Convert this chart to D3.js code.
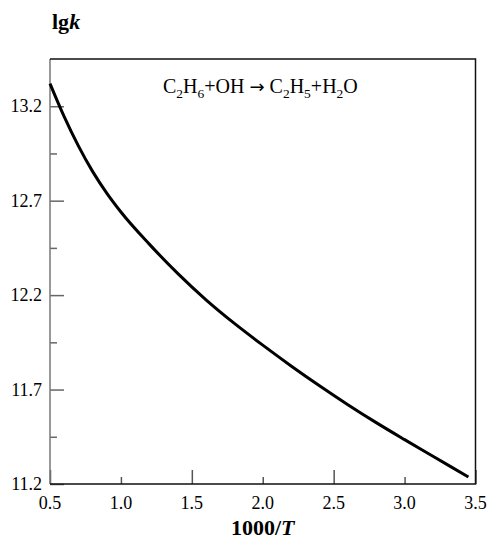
<!DOCTYPE html>
<html>
<head>
<meta charset="utf-8">
<script src="https://cdn.jsdelivr.net/npm/d3@7"></script>
<style>
  html, body { margin: 0; padding: 0; background: #fff; }
  svg { display: block; }
</style>
</head>
<body>
<svg id="chart" width="487" height="541" font-family="'Liberation Serif', 'Times New Roman', 'DejaVu Serif', serif"></svg>
<script>
// Rate constant of C2H6 + OH -> C2H5 + H2O versus reciprocal temperature
const invT = [0.50, 0.60, 0.70, 0.80, 0.90, 1.00, 1.20, 1.40, 1.60, 1.80, 2.00, 2.20, 2.40, 2.60, 2.80, 3.00, 3.20, 3.45];
const lgk  = [13.32, 13.145, 12.99, 12.855, 12.74, 12.64, 12.47, 12.315, 12.175, 12.05, 11.935, 11.825, 11.72, 11.62, 11.525, 11.435, 11.347, 11.237];

const xMajor = [0.5, 1.5, 2.5, 3.5];
const xMinor = [1.0, 2.0, 3.0];
const xTickLabels = [0.5, 1.0, 1.5, 2.0, 2.5, 3.0, 3.5];
const yMajor = [11.2, 11.7, 12.2, 12.7, 13.2];
const yMinor = [11.45, 11.95, 12.45, 12.95];

const svg = d3.select("#chart");
const L = 50, R = 475.5, T = 59, B = 484;

const x = d3.scaleLinear().domain([0.5, 3.5]).range([L, R]);
const y = d3.scaleLinear().domain([11.2, 13.45]).range([B, T]);

// inward ticks on the bottom axis
const gx = svg.append("g").attr("transform", `translate(0,${B})`);
gx.call(d3.axisBottom(x).tickValues(xMajor).tickSizeInner(-14).tickSizeOuter(0).tickFormat(""));
gx.append("g").call(d3.axisBottom(x).tickValues(xMinor).tickSizeInner(-7).tickSizeOuter(0).tickFormat(""));
gx.selectAll("path.domain").remove();
gx.selectAll("line").attr("stroke", "#555").attr("stroke-width", 1.5);

// inward ticks on the left axis
const gy = svg.append("g").attr("transform", `translate(${L},0)`);
gy.call(d3.axisLeft(y).tickValues(yMajor).tickSizeInner(-14).tickSizeOuter(0).tickFormat(""));
gy.append("g").call(d3.axisLeft(y).tickValues(yMinor).tickSizeInner(-7).tickSizeOuter(0).tickFormat(""));
gy.selectAll("path.domain").remove();
gy.selectAll("line").attr("stroke", "#666").attr("stroke-width", 1.5);

// tick labels
svg.append("g").selectAll("text").data(xTickLabels).join("text")
  .attr("x", d => x(d)).attr("y", 509)
  .attr("text-anchor", "middle").attr("font-size", 18)
  .text(d => d.toFixed(1));
svg.append("g").selectAll("text").data(yMajor).join("text")
  .attr("x", 42).attr("y", d => y(d) + 6)
  .attr("text-anchor", "end").attr("font-size", 18)
  .text(d => d.toFixed(1));

// frame
svg.append("line").attr("x1", L).attr("x2", L).attr("y1", T).attr("y2", B)
  .attr("stroke", "#777").attr("stroke-width", 1.5);
svg.append("path")
  .attr("d", `M${L},${T}H${R}V${B}H${L}`)
  .attr("fill", "none").attr("stroke", "#111").attr("stroke-width", 1.5);

// curve
const pts = invT.map((v, i) => [v, lgk[i]]);
svg.append("path").datum(pts)
  .attr("fill", "none").attr("stroke", "#000").attr("stroke-width", 3)
  .attr("d", d3.line().x(d => x(d[0])).y(d => y(d[1])).curve(d3.curveMonotoneX));

// reaction label with subscripts; the arrow uses a font that carries the glyph
const eq = svg.append("text").attr("x", 163).attr("y", 93).attr("font-size", 20);
const parts = [["C"], ["2", "sub"], ["H"], ["6", "sub"], ["+OH "], ["\u2192", "arrow"], [" C"], ["2", "sub"], ["H"], ["5", "sub"], ["+H"], ["2", "sub"], ["O"]];
parts.forEach(([t, kind], i) => {
  const prevSub = i > 0 && parts[i - 1][1] === "sub";
  const sub = kind === "sub";
  const sp = eq.append("tspan").text(t)
    .attr("dy", (sub ? 5 : 0) + (prevSub ? -5 : 0));
  if (sub) sp.attr("font-size", 13.5);
  if (kind === "arrow") sp.attr("font-family", "'DejaVu Sans', sans-serif").attr("font-size", 18);
});

// axis titles
const yt = svg.append("text").attr("x", 52).attr("y", 29).attr("font-size", 22).attr("font-weight", "bold");
yt.append("tspan").text("lg");
yt.append("tspan").attr("font-style", "italic").text("k");

const xt = svg.append("text").attr("x", x(2.0)).attr("y", 535).attr("text-anchor", "middle")
  .attr("font-size", 22).attr("font-weight", "bold");
xt.append("tspan").text("1000/");
xt.append("tspan").attr("font-style", "italic").text("T");
</script>
</body>
</html>
